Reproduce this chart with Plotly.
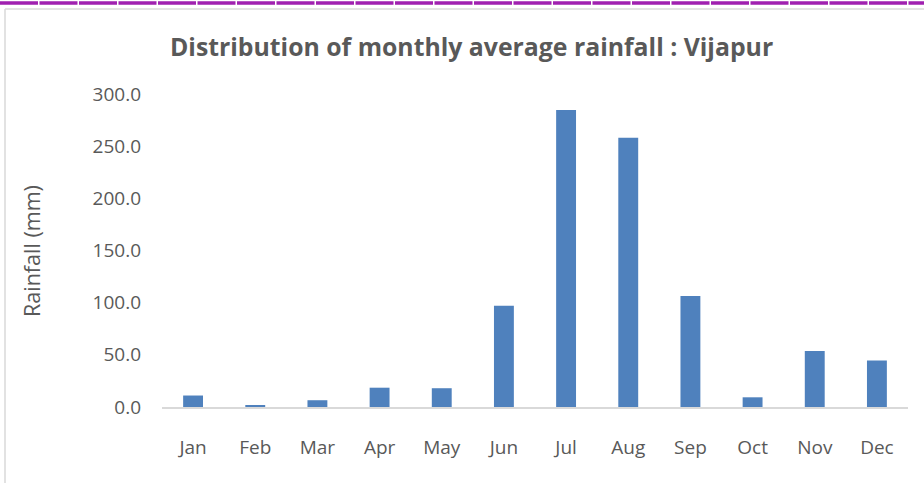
import plotly.graph_objects as go

months = ["Jan", "Feb", "Mar", "Apr", "May", "Jun", "Jul", "Aug", "Sep", "Oct", "Nov", "Dec"]
rainfall = [11.0, 1.3, 6.5, 18.5, 18.0, 97.0, 284.7, 258.0, 106.5, 9.3, 53.7, 44.5]
y_ticks = [0, 50, 100, 150, 200, 250, 300]
y_tick_text = ["0.0", "50.0", "100.0", "150.0", "200.0", "250.0", "300.0"]

W, H = 924, 483
L, R, T, B = 162, 16, 94, 76
PW, PH = W - L - R, H - T - B

def px(x):
    return (x - L) / PW

def py(y):
    return (H - B - y) / PH

font = "Open Sans, Liberation Sans, sans-serif"
gray = "#595959"

fig = go.Figure(go.Bar(x=months, y=rainfall, marker=dict(color="#4f81bd", line=dict(width=0)),
                       width=0.32))

fig.update_layout(
    width=W, height=H,
    margin=dict(l=L, r=R, t=T, b=B),
    paper_bgcolor="white", plot_bgcolor="white",
    showlegend=False,
    font=dict(family=font, color=gray, size=19),
    xaxis=dict(showgrid=False, showline=True, linecolor="#d9d9d9", linewidth=2,
               ticks="", ticklabelstandoff=22, tickfont=dict(size=19, color=gray)),
    yaxis=dict(range=[0, 300], showgrid=False, showline=False, zeroline=False,
               tickvals=y_ticks, ticktext=y_tick_text, ticks="",
               ticklabelstandoff=20, tickfont=dict(size=19, color=gray)),
    shapes=[
        dict(type="line", xref="paper", yref="paper", x0=px(0), x1=px(W), y0=py(3), y1=py(3),
             line=dict(color="#a020b0", width=3.5, dash="38px,1.5px")),
        dict(type="line", xref="paper", yref="paper", x0=px(5), x1=px(W + 5), y0=py(9), y1=py(9),
             line=dict(color="#d9d9d9", width=1.5)),
        dict(type="line", xref="paper", yref="paper", x0=px(5), x1=px(5), y0=py(9), y1=py(H + 5),
             line=dict(color="#d9d9d9", width=1.5)),
    ],
    annotations=[
        dict(text="<b>Distribution of monthly average rainfall : Vijapur</b>", xref="paper", yref="paper",
             x=px(471.5), y=py(46), showarrow=False, xanchor="center", yanchor="middle",
             font=dict(size=24.8, color=gray, family=font)),
        dict(text="Rainfall (mm)", xref="paper", yref="paper", x=px(31), y=py(251),
             showarrow=False, textangle=-90, xanchor="center", yanchor="middle",
             font=dict(size=21.5, color=gray, family=font)),
    ],
)

fig.write_html("out.html", config={"displayModeBar": False},
               post_script="document.body.style.margin='0';document.body.style.overflow='hidden';")
